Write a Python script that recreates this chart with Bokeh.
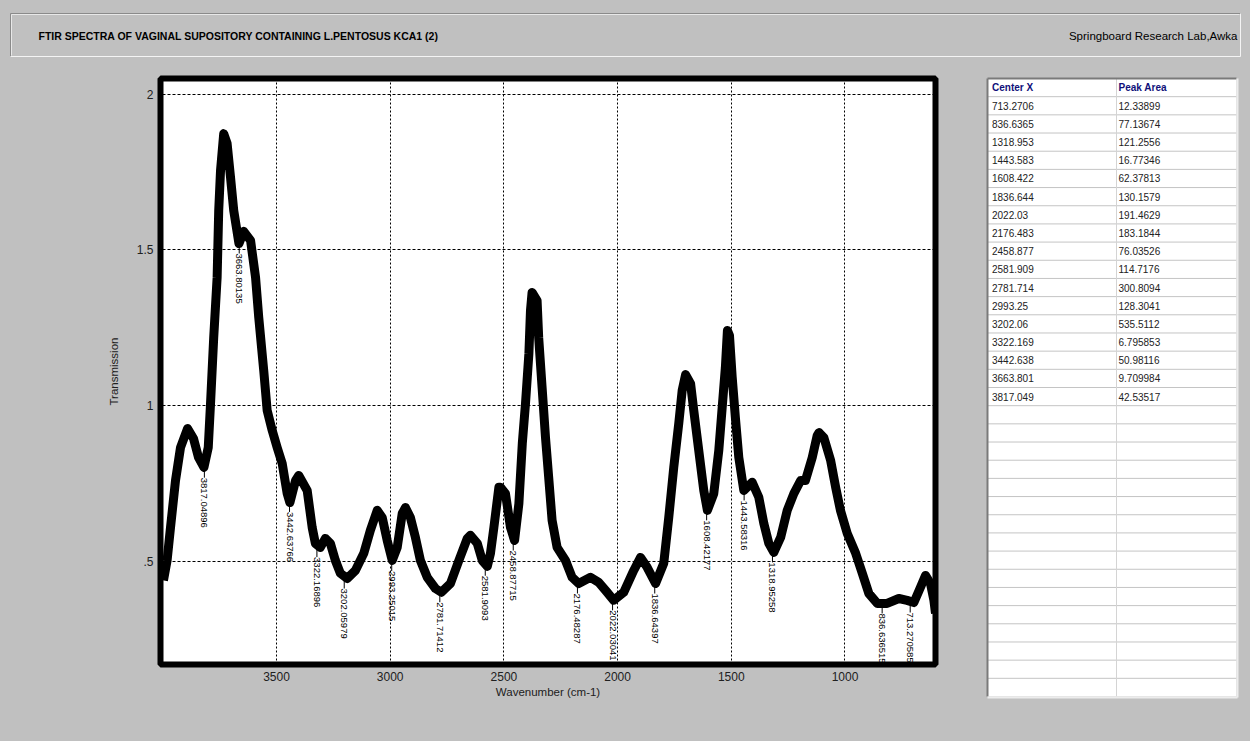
import math
from bokeh.plotting import figure
from bokeh.models import Range1d, FixedTicker, Label, ColumnDataSource
from bokeh.layouts import column, row
from bokeh.embed import file_html
from bokeh.resources import INLINE
from bokeh.core.properties import value

# ---------------- data ----------------
title_text = "FTIR SPECTRA OF  VAGINAL SUPOSITORY CONTAINING L.PENTOSUS KCA1 (2)"
lab_text = "Springboard Research Lab,Awka"
x_label = "Wavenumber (cm-1)"
y_label = "Transmission"
x_ticks = [3500, 3000, 2500, 2000, 1500, 1000]
y_ticks = [0.5, 1.0, 1.5, 2.0]
y_tick_labels = [".5", "1", "1.5", "2"]
table_headers = ["Center X", "Peak Area"]

wavenumber = [3997, 3981, 3966, 3944, 3922, 3891, 3865, 3843, 3819, 3800,
              3790, 3776, 3761, 3754, 3746, 3732, 3717, 3702, 3688, 3665,
              3644, 3614, 3592, 3578, 3556, 3541, 3519, 3497, 3475, 3453,
              3441, 3416, 3402, 3365, 3343, 3329, 3307, 3285, 3263, 3241,
              3219, 3189, 3153, 3116, 3087, 3057, 3035, 3013, 2991, 2969,
              2947, 2933, 2911, 2889, 2867, 2837, 2801, 2775, 2735, 2698,
              2661, 2647, 2617, 2595, 2573, 2559, 2544, 2522, 2515, 2493,
              2471, 2453, 2434, 2419, 2405, 2390, 2383, 2376, 2354, 2347,
              2332, 2317, 2303, 2288, 2266, 2229, 2200, 2171, 2119, 2083,
              2046, 2017, 1973, 1929, 1899, 1870, 1833, 1797, 1775, 1753,
              1731, 1716, 1701, 1679, 1665, 1643, 1621, 1605, 1577, 1555,
              1540, 1526, 1517, 1508, 1496, 1482, 1467, 1445, 1408, 1379,
              1357, 1335, 1313, 1283, 1254, 1225, 1195, 1174, 1144, 1122,
              1114, 1093, 1063, 1041, 1020, 990, 953, 924, 895, 858,
              815, 763, 727, 697, 668, 646, 624, 609, 602]

transmission = [0.438, 0.502, 0.608, 0.759, 0.865, 0.926, 0.894, 0.833, 0.801, 0.865,
                1.006, 1.218, 1.411, 1.626, 1.755, 1.873, 1.841, 1.732, 1.626, 1.520,
                1.559, 1.530, 1.411, 1.283, 1.112, 0.984, 0.920, 0.865, 0.814, 0.717,
                0.688, 0.759, 0.775, 0.727, 0.608, 0.557, 0.544, 0.573, 0.557, 0.502,
                0.461, 0.444, 0.470, 0.525, 0.599, 0.663, 0.640, 0.566, 0.502, 0.544,
                0.653, 0.672, 0.640, 0.576, 0.502, 0.448, 0.412, 0.400, 0.428, 0.502,
                0.573, 0.583, 0.557, 0.502, 0.483, 0.525, 0.608, 0.737, 0.737, 0.717,
                0.608, 0.566, 0.685, 0.878, 1.006, 1.167, 1.305, 1.363, 1.337, 1.218,
                1.058, 0.897, 0.769, 0.631, 0.544, 0.502, 0.448, 0.428, 0.448, 0.432,
                0.400, 0.374, 0.400, 0.470, 0.512, 0.480, 0.428, 0.493, 0.640, 0.801,
                0.942, 1.048, 1.099, 1.070, 0.984, 0.855, 0.727, 0.663, 0.717, 0.855,
                0.994, 1.122, 1.241, 1.225, 1.090, 0.961, 0.833, 0.727, 0.753, 0.705,
                0.621, 0.557, 0.528, 0.576, 0.663, 0.717, 0.759, 0.759, 0.833, 0.904,
                0.913, 0.897, 0.823, 0.737, 0.663, 0.589, 0.525, 0.461, 0.396, 0.364,
                0.364, 0.380, 0.374, 0.367, 0.416, 0.454, 0.428, 0.374, 0.332]

peak_x = [3817.04896, 3663.80135, 3442.63766, 3322.16896, 3202.05979, 2993.25015,
          2781.71412, 2581.9093, 2458.87715, 2176.48287, 2022.03041, 1836.64397,
          1608.42177, 1443.58316, 1318.95258, 836.636515, 713.270585]
peak_y = [0.80, 1.52, 0.69, 0.545, 0.444, 0.50, 0.40, 0.485, 0.566, 0.428, 0.374,
          0.428, 0.663, 0.727, 0.528, 0.364, 0.367]
peak_area = [42.53517, 9.709984, 50.98116, 6.795853, 535.5112, 128.3041, 300.8094,
             114.7176, 76.03526, 183.1844, 191.4629, 130.1579, 62.37813, 16.77346,
             121.2556, 77.13674, 12.33899]

# ---------------- style ----------------
GRAY = "#c0c0c0"
FONT = "Liberation Sans"
PAGE_W, PAGE_H = 1249, 740
TOP_H = 62
SPEC_W = 975

# ---------------- title panel ----------------
t = figure(width=PAGE_W, height=TOP_H, x_range=Range1d(0, PAGE_W), y_range=Range1d(TOP_H, 0),
           x_axis_type=None, y_axis_type=None, output_backend="svg",
           toolbar_location=None, min_border=0)
t.background_fill_color = GRAY
t.border_fill_color = GRAY
t.outline_line_color = None
t.grid.visible = False
pl, pr, pt, pb = 10, 1240, 13, 56
t.multi_line(xs=[[pl, pr], [pl, pl]], ys=[[pt, pt], [pt, pb]], line_color="#8a8a8a", line_width=1)
t.multi_line(xs=[[pl + 1, pr - 1], [pl + 1, pl + 1]], ys=[[pt + 1, pt + 1], [pt + 1, pb - 1]],
             line_color="#e8e8e8", line_width=1)
t.multi_line(xs=[[pl, pr], [pr, pr]], ys=[[pb, pb], [pt, pb]], line_color="#f4f4f4", line_width=1)
t.add_layout(Label(x=38, y=35, text=title_text, text_font=FONT,
                   text_font_size="10.5px", text_font_style="bold",
                   text_color="#000000", text_baseline="middle", text_align="left"))
t.add_layout(Label(x=1237, y=35, text=lab_text, text_font=FONT, text_font_size="11.5px",
                   text_color="#000000", text_baseline="middle", text_align="right"))

# ---------------- spectrum ----------------
spec_h = PAGE_H - TOP_H
p = figure(width=SPEC_W, height=spec_h, x_range=Range1d(4010, 602), y_range=Range1d(0.168, 2.05),
           output_backend="svg", toolbar_location=None,
           min_border_left=160, min_border_right=40, min_border_top=16,
           min_border_bottom=spec_h - (664 - TOP_H))
p.background_fill_color = "white"
p.border_fill_color = GRAY
p.outline_line_color = "black"
p.outline_line_width = 6

p.xaxis.ticker = FixedTicker(ticks=x_ticks)
p.yaxis.ticker = FixedTicker(ticks=y_ticks)
p.yaxis.major_label_overrides = {tk: lb for tk, lb in zip(y_ticks, y_tick_labels)}
for ax in (p.xaxis[0], p.yaxis[0]):
    ax.axis_line_color = None
    ax.major_tick_line_color = None
    ax.minor_tick_line_color = None
    ax.major_tick_out = 0
    ax.major_tick_in = 0
    ax.minor_tick_out = 0
    ax.minor_tick_in = 0
    ax.major_label_text_font = FONT
    ax.major_label_text_font_size = "12px"
    ax.major_label_text_color = "#202020"
    ax.axis_label_text_font = FONT
    ax.axis_label_text_font_size = "11.5px"
    ax.axis_label_text_font_style = "normal"
    ax.axis_label_text_color = "#202020"
p.xaxis.axis_label = x_label
p.yaxis.axis_label = y_label
p.xaxis.major_label_standoff = 7
p.yaxis.major_label_standoff = 7
p.xaxis.axis_label_standoff = 2
p.yaxis.axis_label_standoff = 14

p.xgrid.grid_line_color = "black"
p.xgrid.grid_line_dash = "2 2"
p.xgrid.grid_line_width = 1
p.ygrid.grid_line_color = "black"
p.ygrid.grid_line_dash = "3 2"
p.ygrid.grid_line_width = 1

tick_len = 0.032
psrc = ColumnDataSource(dict(x=peak_x, y=peak_y,
                             y1=[v - tick_len for v in peak_y],
                             label=[str(v) for v in peak_x]))
p.segment(x0="x", y0="y", x1="x", y1="y1", source=psrc, line_color="black", line_width=1)
p.text(x="x", y="y1", text="label", source=psrc, angle=-math.pi / 2,
       text_align="left", text_baseline="middle", text_font=value(FONT),
       text_font_size="9.5px", text_color="black")
p.line(wavenumber, transmission, line_width=9, line_color="black", line_join="round")

# ---------------- table ----------------
n_rows = 34
tb_left, tb_right, tb_top, tb_bottom = 12, 261, 78 - TOP_H, 696 - TOP_H
row_h = (tb_bottom - tb_top) / n_rows
col_split = 141
tb_w = PAGE_W - SPEC_W

tb = figure(width=tb_w, height=spec_h, x_range=Range1d(0, tb_w), y_range=Range1d(spec_h, 0),
            x_axis_type=None, y_axis_type=None, output_backend="svg",
            toolbar_location=None, min_border=0)
tb.background_fill_color = GRAY
tb.border_fill_color = GRAY
tb.outline_line_color = None
tb.grid.visible = False
tb.quad(left=[tb_left], right=[tb_right], top=[tb_top], bottom=[tb_bottom],
        fill_color="white", line_color=None)
hy = [tb_top + i * row_h for i in range(1, n_rows)]
tb.segment(x0=[tb_left] * len(hy), x1=[tb_right] * len(hy), y0=hy, y1=hy,
           line_color="#c4c4c4", line_width=1)
tb.segment(x0=[col_split], x1=[col_split], y0=[tb_top], y1=[tb_bottom],
           line_color="#d4d4d4", line_width=1)
tb.multi_line(xs=[[tb_left, tb_left], [tb_left, tb_right]],
              ys=[[tb_top, tb_bottom], [tb_top, tb_top]], line_color="#7a7a7a", line_width=2)
tb.multi_line(xs=[[tb_right + 1, tb_right + 1], [tb_left, tb_right + 1]],
              ys=[[tb_top, tb_bottom + 1], [tb_bottom + 1, tb_bottom + 1]],
              line_color="#ececec", line_width=2)

order = sorted(range(len(peak_x)), key=lambda i: peak_x[i])
cx_txt = ["%.7g" % peak_x[i] for i in order]
pa_txt = ["%.7g" % peak_area[i] for i in order]
row_y = [tb_top + (k + 1.5) * row_h for k in range(len(order))]

tb.text(x=[tb_left + 4.5, col_split + 2], y=[tb_top + row_h / 2] * 2, text=table_headers,
        text_font=value(FONT), text_font_size="10px", text_font_style="bold",
        text_color="#10107a", text_baseline="middle", text_align="left")
tb.text(x=[tb_left + 4.5] * len(cx_txt), y=row_y, text=cx_txt,
        text_font=value(FONT), text_font_size="10px",
        text_color="#222222", text_baseline="middle", text_align="left")
tb.text(x=[col_split + 2] * len(pa_txt), y=row_y, text=pa_txt,
        text_font=value(FONT), text_font_size="10px",
        text_color="#222222", text_baseline="middle", text_align="left")

layout = column(t, row(p, column(tb, spacing=0), spacing=0), spacing=0)
html = file_html(layout, INLINE, title="FTIR spectra")
i = html.rfind("<body")
j = html.find(">", i)
html = html[:i] + '<body style="background-color:#c0c0c0; margin:0; padding:0; overflow:hidden;">' + html[j + 1:]
open("out.html", "w").write(html)
